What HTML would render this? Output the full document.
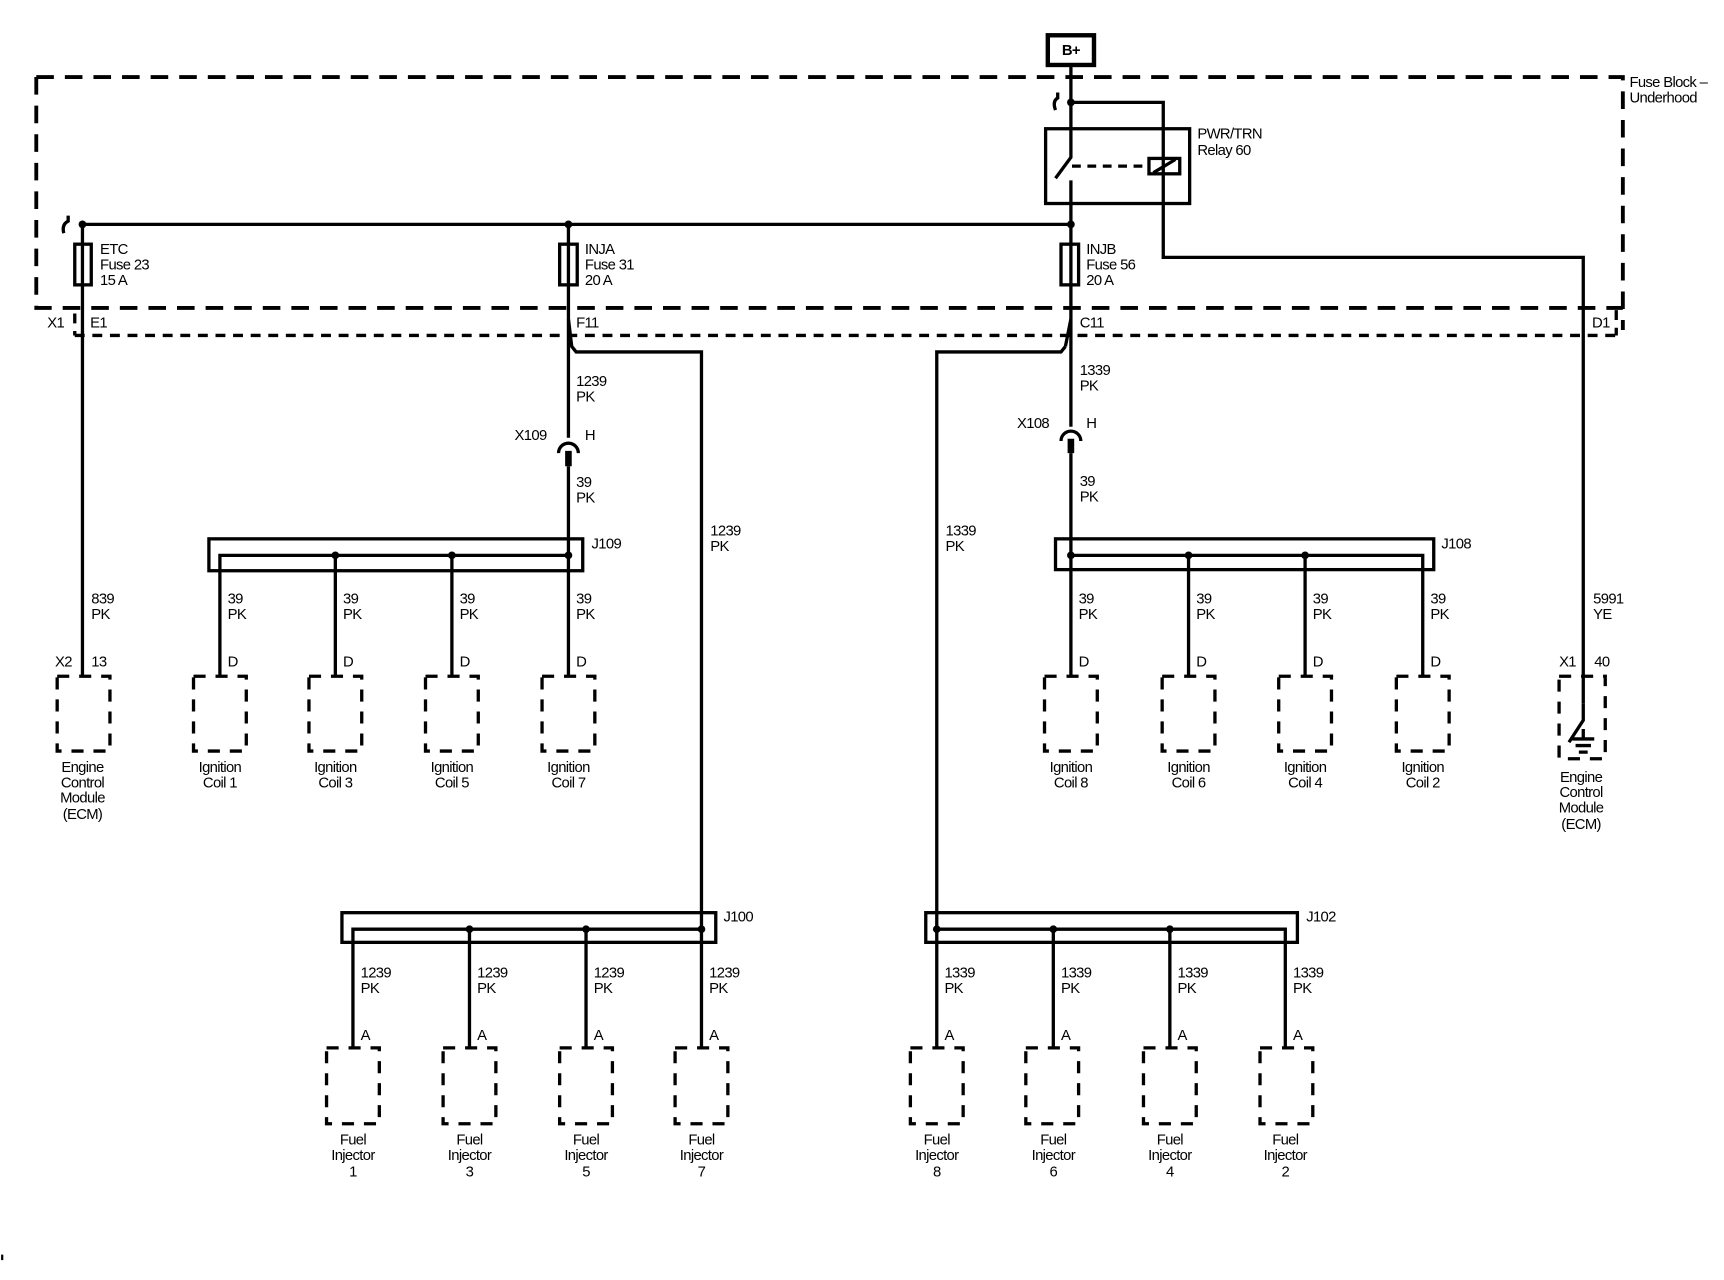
<!DOCTYPE html>
<html><head><meta charset="utf-8"><style>
html,body{margin:0;padding:0;background:#fff;}
svg{display:block;}
text{font-family:"Liberation Sans",sans-serif;font-size:13.5px;fill:#000;letter-spacing:-0.6px;}
</style></head><body>
<svg width="1724" height="1280" viewBox="0 0 1568 1164" xmlns="http://www.w3.org/2000/svg">
<rect width="1568" height="1164" fill="#fff"/>
<g fill="none" stroke="#000">
<!-- fuse block dashed -->
<path d="M33 70 H1476 V300 M33 70 V280 H1476" stroke-width="3.5" stroke-dasharray="16 10"/>
<path d="M68 305 H1470 M68 285 V305 M1470 282 V305" stroke-width="3" stroke-dasharray="9 7"/>
<!-- B+ -->
<rect x="953" y="32" width="42" height="27" stroke-width="4"/>
<!-- main wires -->
<g stroke-width="3">
<path d="M974 60 V143 L960 162 M974 164 V290 L969 315"/>
<path d="M974 93 H1058 V234 H1440 V640"/>
<path d="M962 84 V89 Q957 92 960 100"/>
<path d="M75 204 H974"/>
<path d="M62 196 V201 Q56 204 58 212"/>
<path d="M75 204 V615"/>
<path d="M517 204 V290 L520 315 L524 320 H638 V845"/>
<path d="M517 290 V398"/>
<path d="M974 290 V388"/>
<path d="M969 315 L965 320 H852 V845"/>
<rect x="951" y="117" width="131" height="68"/>
<rect x="1045" y="144" width="28" height="14"/>
<path d="M1049 157 L1069 145"/>
<path d="M975 151 H1044" stroke-dasharray="8 6"/>
<rect x="68" y="222" width="15" height="37"/>
<rect x="509" y="222" width="16" height="37"/>
<rect x="965" y="222" width="16" height="37"/>
<!-- connectors X109, X108 -->
<path d="M508 412 A9 9 0 0 1 526 412"/>
<path d="M965 401 A9 9 0 0 1 983 401"/>
<path d="M517 424 V615"/>
<path d="M974 412 V615"/>
<!-- J109 -->
<rect x="190" y="490" width="340" height="29"/>
<path d="M200 615 V505 H517 M305 505 V615 M411 505 V615"/>
<!-- J108 -->
<rect x="960" y="490" width="344" height="28"/>
<path d="M974 505 H1294 V615 M1081 505 V615 M1187 505 V615"/>
<!-- J100 -->
<rect x="311" y="830" width="340" height="27"/>
<path d="M321 953 V845 H638 V953 M427 845 V953 M533 845 V953"/>
<!-- J102 -->
<rect x="842" y="830" width="338" height="27"/>
<path d="M852 953 V845 H1169 V953 M958 845 V953 M1064 845 V953"/>
<!-- ECM right switch -->
<path d="M1440 640 V655 L1427 675"/>
<path d="M1440 663 V672 M1430 672 H1450 M1433 678 H1447 M1436 684 H1444"/>
</g>
<path d="M517 410 V424 M974 399 V412" stroke-width="6"/>
<!-- dashed component boxes -->
<g stroke-width="3" stroke-dasharray="11 9">
<rect x="52" y="615" width="48" height="68"/>
<rect x="176" y="615" width="48" height="68"/>
<rect x="281" y="615" width="48" height="68"/>
<rect x="387" y="615" width="48" height="68"/>
<rect x="493" y="615" width="48" height="68"/>
<rect x="950" y="615" width="48" height="68"/>
<rect x="1057" y="615" width="48" height="68"/>
<rect x="1163" y="615" width="48" height="68"/>
<rect x="1270" y="615" width="48" height="68"/>
<rect x="1418" y="615" width="42" height="75"/>
<rect x="297" y="953" width="48" height="69"/>
<rect x="403" y="953" width="48" height="69"/>
<rect x="509" y="953" width="48" height="69"/>
<rect x="614" y="953" width="48" height="69"/>
<rect x="828" y="953" width="48" height="69"/>
<rect x="933" y="953" width="48" height="69"/>
<rect x="1040" y="953" width="48" height="69"/>
<rect x="1146" y="953" width="48" height="69"/>
</g>
</g>
<!-- dots -->
<g fill="#000">
<circle cx="974" cy="93" r="3.5"/><circle cx="75" cy="204" r="3.5"/><circle cx="517" cy="204" r="3.5"/><circle cx="974" cy="204" r="3.5"/>
<circle cx="305" cy="505" r="3.5"/><circle cx="411" cy="505" r="3.5"/><circle cx="517" cy="505" r="3.5"/>
<circle cx="974" cy="505" r="3.5"/><circle cx="1081" cy="505" r="3.5"/><circle cx="1187" cy="505" r="3.5"/>
<circle cx="427" cy="845" r="3.5"/><circle cx="533" cy="845" r="3.5"/><circle cx="638" cy="845" r="3.5"/>
<circle cx="852" cy="845" r="3.5"/><circle cx="958" cy="845" r="3.5"/><circle cx="1064" cy="845" r="3.5"/>
<rect x="1" y="1141" width="2" height="5"/>
</g>
<!-- labels -->
<text x="974" y="50" text-anchor="middle" style="font-weight:bold">B+</text>
<text x="1482" y="79">Fuse Block –</text><text x="1482" y="93">Underhood</text>
<text x="1089" y="126">PWR/TRN</text><text x="1089" y="141">Relay 60</text>
<text x="91" y="231">ETC</text><text x="91" y="245">Fuse 23</text><text x="91" y="259">15 A</text>
<text x="532" y="231">INJA</text><text x="532" y="245">Fuse 31</text><text x="532" y="259">20 A</text>
<text x="988" y="231">INJB</text><text x="988" y="245">Fuse 56</text><text x="988" y="259">20 A</text>
<text x="43" y="298">X1</text><text x="82" y="298">E1</text><text x="524" y="298">F11</text><text x="982" y="298">C11</text><text x="1448" y="298">D1</text>
<text x="524" y="351">1239</text><text x="524" y="365">PK</text>
<text x="468" y="400">X109</text><text x="532" y="400">H</text>
<text x="524" y="443">39</text><text x="524" y="457">PK</text>
<text x="982" y="341">1339</text><text x="982" y="355">PK</text>
<text x="925" y="389">X108</text><text x="988" y="389">H</text>
<text x="982" y="442">39</text><text x="982" y="456">PK</text>
<text x="538" y="499">J109</text><text x="1311" y="499">J108</text>
<text x="646" y="487">1239</text><text x="646" y="501">PK</text>
<text x="860" y="487">1339</text><text x="860" y="501">PK</text>
<text x="83" y="549">839</text><text x="83" y="563">PK</text>
<text x="50" y="606">X2</text><text x="83" y="606">13</text>
<text x="1449" y="549">5991</text><text x="1449" y="563">YE</text>
<text x="1418" y="606">X1</text><text x="1450" y="606">40</text>
<g>
<text x="207" y="549">39</text><text x="207" y="563">PK</text><text x="207" y="606">D</text>
<text x="312" y="549">39</text><text x="312" y="563">PK</text><text x="312" y="606">D</text>
<text x="418" y="549">39</text><text x="418" y="563">PK</text><text x="418" y="606">D</text>
<text x="524" y="549">39</text><text x="524" y="563">PK</text><text x="524" y="606">D</text>
<text x="981" y="549">39</text><text x="981" y="563">PK</text><text x="981" y="606">D</text>
<text x="1088" y="549">39</text><text x="1088" y="563">PK</text><text x="1088" y="606">D</text>
<text x="1194" y="549">39</text><text x="1194" y="563">PK</text><text x="1194" y="606">D</text>
<text x="1301" y="549">39</text><text x="1301" y="563">PK</text><text x="1301" y="606">D</text>
</g>
<g text-anchor="middle">
<text x="75" y="702">Engine</text><text x="75" y="716">Control</text><text x="75" y="730">Module</text><text x="75" y="745">(ECM)</text>
<text x="1438" y="711">Engine</text><text x="1438" y="725">Control</text><text x="1438" y="739">Module</text><text x="1438" y="754">(ECM)</text>
<text x="200" y="702">Ignition</text><text x="200" y="716">Coil 1</text>
<text x="305" y="702">Ignition</text><text x="305" y="716">Coil 3</text>
<text x="411" y="702">Ignition</text><text x="411" y="716">Coil 5</text>
<text x="517" y="702">Ignition</text><text x="517" y="716">Coil 7</text>
<text x="974" y="702">Ignition</text><text x="974" y="716">Coil 8</text>
<text x="1081" y="702">Ignition</text><text x="1081" y="716">Coil 6</text>
<text x="1187" y="702">Ignition</text><text x="1187" y="716">Coil 4</text>
<text x="1294" y="702">Ignition</text><text x="1294" y="716">Coil 2</text>
<text x="321" y="1041">Fuel</text><text x="321" y="1055">Injector</text><text x="321" y="1070">1</text>
<text x="427" y="1041">Fuel</text><text x="427" y="1055">Injector</text><text x="427" y="1070">3</text>
<text x="533" y="1041">Fuel</text><text x="533" y="1055">Injector</text><text x="533" y="1070">5</text>
<text x="638" y="1041">Fuel</text><text x="638" y="1055">Injector</text><text x="638" y="1070">7</text>
<text x="852" y="1041">Fuel</text><text x="852" y="1055">Injector</text><text x="852" y="1070">8</text>
<text x="958" y="1041">Fuel</text><text x="958" y="1055">Injector</text><text x="958" y="1070">6</text>
<text x="1064" y="1041">Fuel</text><text x="1064" y="1055">Injector</text><text x="1064" y="1070">4</text>
<text x="1169" y="1041">Fuel</text><text x="1169" y="1055">Injector</text><text x="1169" y="1070">2</text>
</g>
<text x="658" y="838">J100</text><text x="1188" y="838">J102</text>
<g>
<text x="328" y="889">1239</text><text x="328" y="903">PK</text><text x="328" y="946">A</text>
<text x="434" y="889">1239</text><text x="434" y="903">PK</text><text x="434" y="946">A</text>
<text x="540" y="889">1239</text><text x="540" y="903">PK</text><text x="540" y="946">A</text>
<text x="645" y="889">1239</text><text x="645" y="903">PK</text><text x="645" y="946">A</text>
<text x="859" y="889">1339</text><text x="859" y="903">PK</text><text x="859" y="946">A</text>
<text x="965" y="889">1339</text><text x="965" y="903">PK</text><text x="965" y="946">A</text>
<text x="1071" y="889">1339</text><text x="1071" y="903">PK</text><text x="1071" y="946">A</text>
<text x="1176" y="889">1339</text><text x="1176" y="903">PK</text><text x="1176" y="946">A</text>
</g>
</svg>
</body></html>
